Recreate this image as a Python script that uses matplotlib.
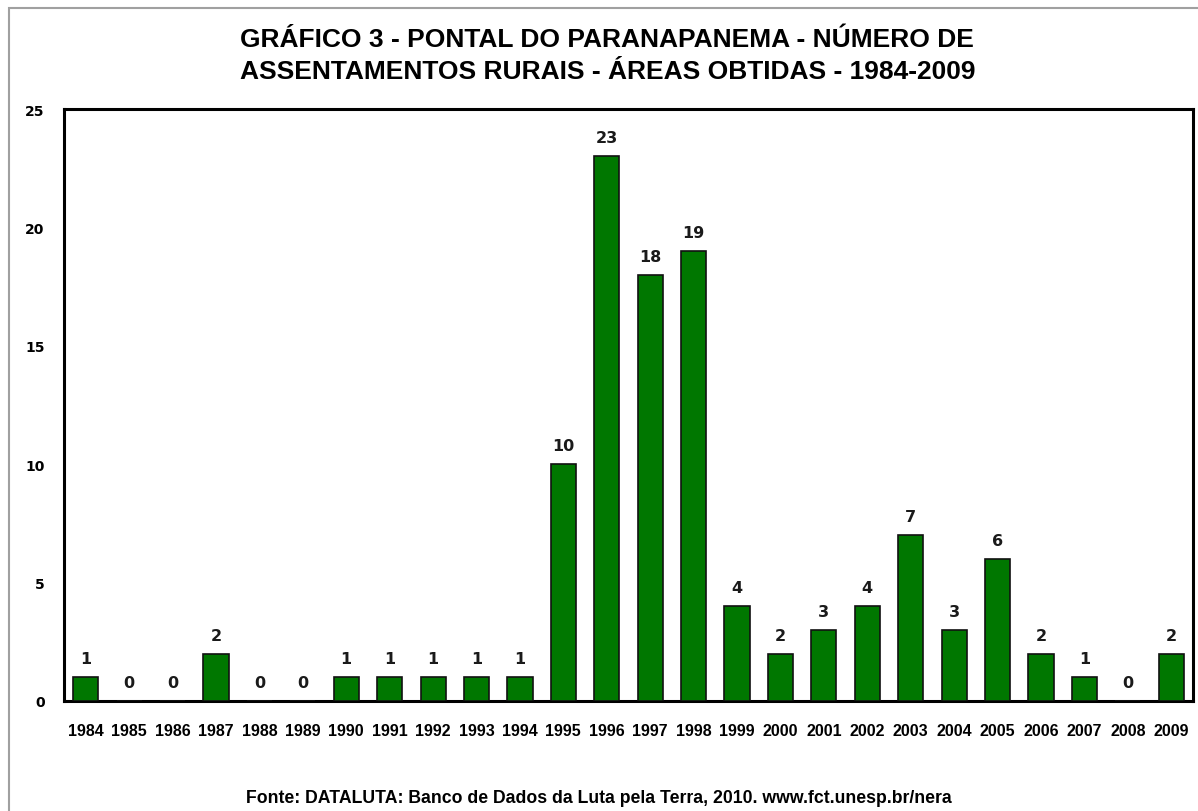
import matplotlib
matplotlib.use("Agg")
import matplotlib.pyplot as plt
from matplotlib.patches import Rectangle

years = ["1984", "1985", "1986", "1987", "1988", "1989", "1990", "1991", "1992",
         "1993", "1994", "1995", "1996", "1997", "1998", "1999", "2000", "2001",
         "2002", "2003", "2004", "2005", "2006", "2007", "2008", "2009"]
values = [1, 0, 0, 2, 0, 0, 1, 1, 1, 1, 1, 10, 23, 18, 19, 4, 2, 3, 4, 7, 3, 6, 2, 1, 0, 2]
yticks = [0, 5, 10, 15, 20, 25]

title = "GRÁFICO 3 - PONTAL DO PARANAPANEMA - NÚMERO DE\nASSENTAMENTOS RURAIS - ÁREAS OBTIDAS - 1984-2009"
source = "Fonte: DATALUTA: Banco de Dados da Luta pela Terra, 2010. www.fct.unesp.br/nera"

fig = plt.figure(figsize=(11.98, 8.12), dpi=100)
fig.patch.set_facecolor("white")

# outer chart-area border (gray)
fig.add_artist(Rectangle((9 / 1198, -0.01), 1.2, 1 - 9 / 812 + 0.01,
                         transform=fig.transFigure, fill=False,
                         edgecolor="#a0a0a0", linewidth=1.5))

ax = fig.add_axes([64 / 1198, 1 - 702 / 812, (1193 - 64) / 1198, (702 - 110) / 812])
x = list(range(len(years)))
bars = ax.bar(x, values, width=0.58, color="#007700", edgecolor="#111111", linewidth=1.2, zorder=3)

ax.set_xlim(-0.5, len(years) - 0.5)
ax.set_ylim(0, 25)
ax.set_yticks(yticks)
ax.set_yticklabels([str(t) for t in yticks], fontfamily="DejaVu Sans", fontweight="bold", fontsize=10)
ax.set_xticks(x)
ax.set_xticklabels(years, fontfamily="Liberation Sans", fontweight="bold", fontsize=11.5)
ax.tick_params(axis="y", length=0, pad=14)
ax.tick_params(axis="x", length=0, pad=16)
for s in ax.spines.values():
    s.set_linewidth(2.2)
    s.set_color("black")

for xi, v in zip(x, values):
    ax.annotate(str(v), (xi, v), xytext=(0, 8), textcoords="offset points",
                ha="center", va="bottom", fontfamily="DejaVu Sans",
                fontweight="bold", fontsize=11.5, color="#1a1a1a")

fig.text(0.507, 1 - 56 / 812, title, ha="center", va="center",
         fontfamily="Liberation Sans", fontweight="bold", fontsize=19,
         linespacing=1.38)
fig.text(0.5, 1 - 799 / 812, source, ha="center", va="center",
         fontfamily="Liberation Sans", fontweight="bold", fontsize=12.7)

fig.savefig("out.png", dpi=100)
